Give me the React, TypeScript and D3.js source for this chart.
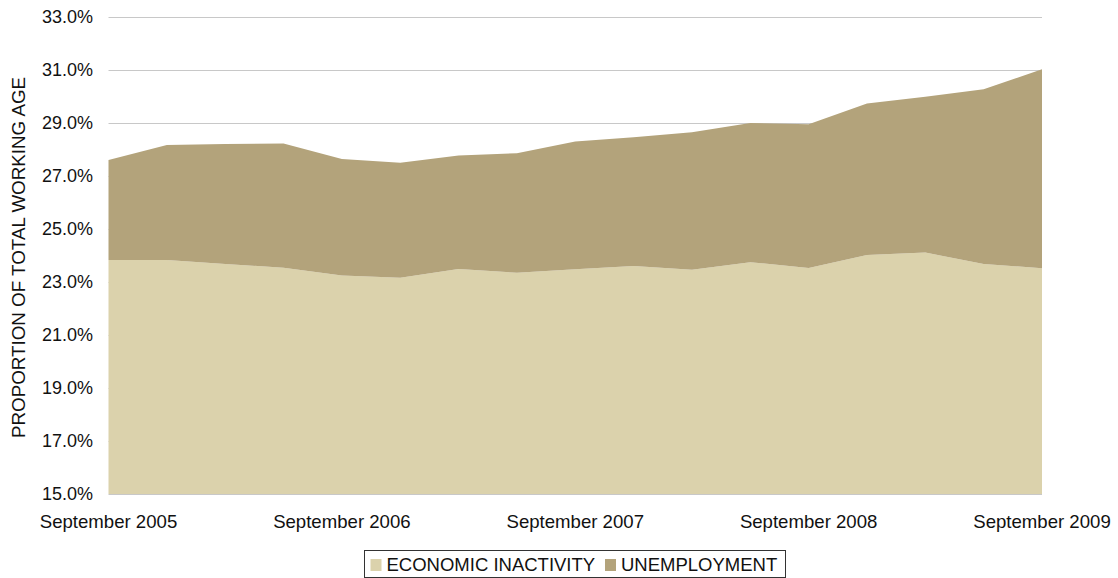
import React, { useEffect } from "react";
import * as d3 from "d3";

// Quarterly observations, September 2005 – September 2009
const periods: string[] = [
  "Sep 2005", "Dec 2005", "Mar 2006", "Jun 2006",
  "Sep 2006", "Dec 2006", "Mar 2007", "Jun 2007",
  "Sep 2007", "Dec 2007", "Mar 2008", "Jun 2008",
  "Sep 2008", "Dec 2008", "Mar 2009", "Jun 2009",
  "Sep 2009",
];

// Share of the working-age population (%)
const economicInactivity: number[] = [
  23.83, 23.83, 23.68, 23.54, 23.25, 23.16, 23.49, 23.35, 23.48,
  23.6, 23.46, 23.75, 23.53, 24.02, 24.11, 23.68, 23.52,
];
const unemployment: number[] = [
  3.77, 4.34, 4.53, 4.69, 4.39, 4.34, 4.28, 4.51, 4.82,
  4.86, 5.19, 5.25, 5.42, 5.72, 5.88, 6.59, 7.51,
];

const yTicks: number[] = [15, 17, 19, 21, 23, 25, 27, 29, 31, 33];
const xTickLabels: { index: number; label: string }[] = [
  { index: 0, label: "September 2005" },
  { index: 4, label: "September 2006" },
  { index: 8, label: "September 2007" },
  { index: 12, label: "September 2008" },
  { index: 16, label: "September 2009" },
];
const seriesNames: string[] = ["ECONOMIC INACTIVITY", "UNEMPLOYMENT"];
const seriesColors: string[] = ["#dbd2ac", "#b3a37b"];

const WIDTH = 1118;
const HEIGHT = 578;
const FONT = "'Liberation Sans', Arial, Helvetica, sans-serif";

export default function App() {
  useEffect(() => {
    document.body.style.margin = "0";
    document.body.style.overflow = "hidden";
  }, []);

  const left = 108.5;
  const right = 1042;
  const top = 17;
  const bottom = 494;

  const x = d3.scaleLinear().domain([0, periods.length - 1]).range([left, right]);
  const y = d3.scaleLinear().domain([15, 33]).range([bottom, top]);

  const rows = periods.map((_p, i) => ({
    inactivity: economicInactivity[i],
    unemployment: unemployment[i],
  }));
  const layers = d3.stack<any>().keys(["inactivity", "unemployment"])(rows);

  // the inactivity band sits on the axis floor (15%)
  const area = d3
    .area<any>()
    .x((_d: any, i: number) => x(i))
    .y0((d: any) => y(Math.max(15, d[0])))
    .y1((d: any) => y(d[1]));

  // legend layout
  const legendX = 364;
  const legendY = 550;
  const legendW = 421;
  const legendH = 27;

  return (
    <div
      style={{
        position: "absolute",
        left: 0,
        top: 0,
        width: WIDTH,
        height: HEIGHT,
        overflow: "hidden",
      }}
    >
      <svg width={WIDTH} height={HEIGHT} style={{ display: "block", fontFamily: FONT }}>
        <rect width={WIDTH} height={HEIGHT} fill="#ffffff" />
        {yTicks.map((t) => (
          <line
            key={"g" + t}
            x1={left}
            x2={right}
            y1={Math.round(y(t)) + 0.5}
            y2={Math.round(y(t)) + 0.5}
            stroke="#c8c8c8"
            strokeWidth={1}
          />
        ))}
        {layers.map((layer, i) => (
          <path key={"a" + i} d={area(layer as any) || ""} fill={seriesColors[i]} />
        ))}
        {yTicks.map((t) => (
          <text
            key={"yl" + t}
            x={93}
            y={y(t)}
            dy="0.36em"
            textAnchor="end"
            fontSize={18}
            fill="#111"
          >
            {t.toFixed(1) + "%"}
          </text>
        ))}
        {xTickLabels.map((d) => (
          <text
            key={"xl" + d.index}
            x={x(d.index)}
            y={528}
            textAnchor="middle"
            fontSize={18.6}
            fill="#111"
          >
            {d.label}
          </text>
        ))}
        <text
          transform={`translate(25, ${257.5}) rotate(-90)`}
          textAnchor="middle"
          fontSize={18.8}
          fill="#111"
        >
          PROPORTION OF TOTAL WORKING AGE
        </text>
        <rect
          x={legendX + 0.5}
          y={legendY + 0.5}
          width={legendW}
          height={legendH}
          fill="#fff"
          stroke="#333"
          strokeWidth={1}
        />
        {seriesNames.map((name, i) => {
          const sx = i === 0 ? 370.5 : 605;
          return (
            <g key={"lg" + i}>
              <rect x={sx} y={559} width={11} height={12} fill={seriesColors[i]} />
              <text x={sx + 16} y={571} fontSize={18.5} fill="#111">
                {name}
              </text>
            </g>
          );
        })}
      </svg>
    </div>
  );
}
